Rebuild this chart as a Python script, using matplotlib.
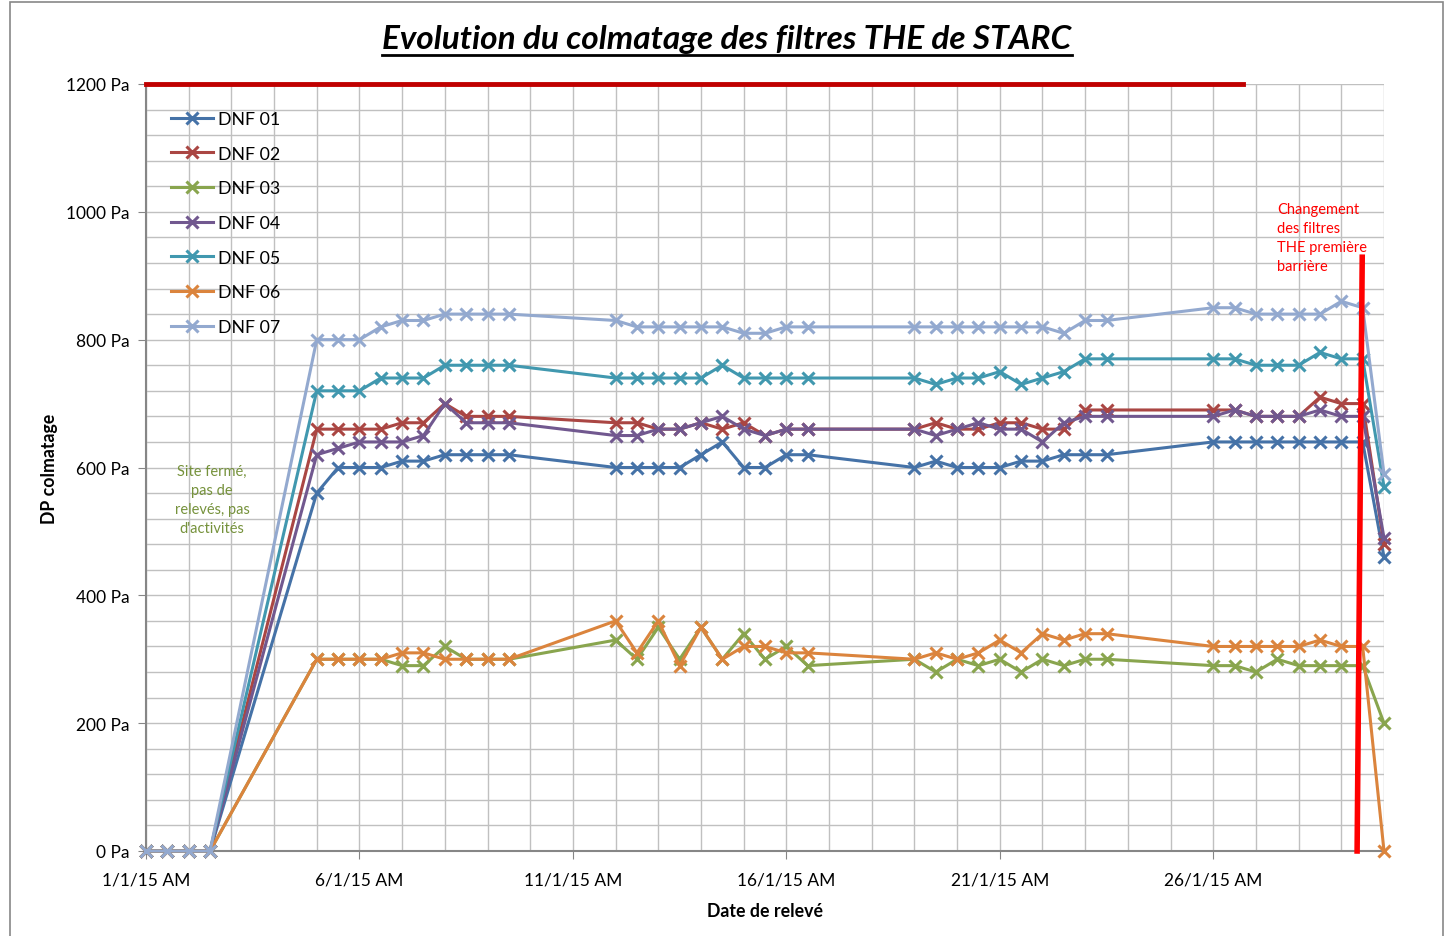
import matplotlib.pyplot as plt
from matplotlib.lines import Line2D
from matplotlib.patches import Rectangle
from matplotlib.ticker import MultipleLocator

plt.rcParams['font.family'] = ['Lato', 'DejaVu Sans']

# jours depuis le 1/1/15 AM (relevés matin / après-midi)
jours = [0, 0.5, 1, 1.5, 4, 4.5, 5, 5.5, 6, 6.5, 7, 7.5, 8, 8.5,
         11, 11.5, 12, 12.5, 13, 13.5, 14, 14.5, 15, 15.5,
         18, 18.5, 19, 19.5, 20, 20.5, 21, 21.5, 22, 22.5,
         25, 25.5, 26, 26.5, 27, 27.5, 28, 28.5, 29]

dnf01 = [0, 0, 0, 0, 560, 600, 600, 600, 610, 610, 620, 620, 620, 620,
         600, 600, 600, 600, 620, 640, 600, 600, 620, 620,
         600, 610, 600, 600, 600, 610, 610, 620, 620, 620,
         640, 640, 640, 640, 640, 640, 640, 640, 460]
dnf02 = [0, 0, 0, 0, 660, 660, 660, 660, 670, 670, 700, 680, 680, 680,
         670, 670, 660, 660, 670, 660, 670, 650, 660, 660,
         660, 670, 660, 660, 670, 670, 660, 660, 690, 690,
         690, 690, 680, 680, 680, 710, 700, 700, 480]
dnf03 = [0, 0, 0, 0, 300, 300, 300, 300, 290, 290, 320, 300, 300, 300,
         330, 300, 350, 300, 350, 300, 340, 300, 320, 290,
         300, 280, 300, 290, 300, 280, 300, 290, 300, 300,
         290, 290, 280, 300, 290, 290, 290, 290, 200]
dnf04 = [0, 0, 0, 0, 620, 630, 640, 640, 640, 650, 700, 670, 670, 670,
         650, 650, 660, 660, 670, 680, 660, 650, 660, 660,
         660, 650, 660, 670, 660, 660, 640, 670, 680, 680,
         680, 690, 680, 680, 680, 690, 680, 680, 490]
dnf05 = [0, 0, 0, 0, 720, 720, 720, 740, 740, 740, 760, 760, 760, 760,
         740, 740, 740, 740, 740, 760, 740, 740, 740, 740,
         740, 730, 740, 740, 750, 730, 740, 750, 770, 770,
         770, 770, 760, 760, 760, 780, 770, 770, 570]
dnf06 = [0, 0, 0, 0, 300, 300, 300, 300, 310, 310, 300, 300, 300, 300,
         360, 310, 360, 290, 350, 300, 320, 320, 310, 310,
         300, 310, 300, 310, 330, 310, 340, 330, 340, 340,
         320, 320, 320, 320, 320, 330, 320, 320, 0]
dnf07 = [0, 0, 0, 0, 800, 800, 800, 820, 830, 830, 840, 840, 840, 840,
         830, 820, 820, 820, 820, 820, 810, 810, 820, 820,
         820, 820, 820, 820, 820, 820, 820, 810, 830, 830,
         850, 850, 840, 840, 840, 840, 860, 850, 590]

series = ['DNF 01', 'DNF 02', 'DNF 03', 'DNF 04', 'DNF 05', 'DNF 06', 'DNF 07']
valeurs = [dnf01, dnf02, dnf03, dnf04, dnf05, dnf06, dnf07]
couleurs = ['#4572A7', '#AA4643', '#89A54E', '#71588F', '#4198AF', '#DB843D', '#93A9CF']

date_ticks = [0, 5, 10, 15, 20, 25]
date_labels = ['1/1/15 AM', '6/1/15 AM', '11/1/15 AM', '16/1/15 AM', '21/1/15 AM', '26/1/15 AM']

seuil = 1200          # seuil de colmatage
fin_seuil = 25.7      # fin du trait rouge du seuil
changement = [28.37, 28.49]   # trait du changement de filtres
changement_haut = 929

fig = plt.figure(figsize=(14.5, 9.37), dpi=100)
ax = fig.add_axes([146 / 1450, 1 - 852 / 937, (1384 - 146) / 1450, (852 - 85) / 937])

for nom, y, c in zip(series, valeurs, couleurs):
    ax.plot(jours, y, color=c, lw=2.2, marker='x', ms=8, mew=2.2, label=nom, clip_on=False, zorder=3)

# seuil 1200 Pa et changement des filtres
ax.plot([0, fin_seuil], [seuil, seuil], color='#C00000', lw=3.5, clip_on=False, zorder=4)
ax.plot(changement, [0, changement_haut], color='#FF0000', lw=4, clip_on=False, zorder=4)

ax.set_xlim(0, 29)
ax.set_ylim(0, 1200)
ax.set_xticks(date_ticks)
ax.set_xticklabels(date_labels)
ax.xaxis.set_minor_locator(MultipleLocator(1))
ax.yaxis.set_major_locator(MultipleLocator(200))
ax.yaxis.set_minor_locator(MultipleLocator(40))
ax.set_yticklabels([f'{int(v)} Pa' for v in ax.get_yticks()])
ax.tick_params(axis='both', which='major', labelsize=12.5, length=6, color='#868686', pad=6)
ax.tick_params(axis='x', which='major', pad=9)
ax.tick_params(axis='both', which='minor', length=0)
ax.grid(True, which='both', color='#C0C0C0', lw=1)
ax.set_axisbelow(True)
for s in ['top', 'right']:
    ax.spines[s].set_visible(False)
for s in ['left', 'bottom']:
    ax.spines[s].set_color('#868686')
    ax.spines[s].set_linewidth(1.5)

ax.set_ylabel('DP colmatage', fontsize=12.8, fontweight='bold', labelpad=6)
ax.set_xlabel('Date de relevé', fontsize=12.8, fontweight='bold', labelpad=10)

ax.legend(loc='upper left', bbox_to_anchor=(0.02, 0.965), frameon=False, fontsize=12.8,
          numpoints=1, handlelength=2.4, handletextpad=0.25, labelspacing=1.05,
          borderpad=0, borderaxespad=0)

ax.text(1.55, 606, "Site fermé,\npas de\nrelevés, pas\nd'activités", color='#76923C',
        fontsize=10.5, ha='center', va='top', linespacing=1.45)
ax.text(26.5, 1015, 'Changement\ndes filtres\nTHE première\nbarrière', color='#FF0000',
        fontsize=10.5, ha='left', va='top', linespacing=1.45)

titre = fig.text(727 / 1450, 1 - 40 / 937, 'Evolution du colmatage des filtres THE de STARC',
                 fontsize=24, fontweight='bold', fontstyle='italic', ha='center', va='center')
fig.canvas.draw()
bb = titre.get_window_extent(fig.canvas.get_renderer())
fig.add_artist(Line2D([bb.x0 / 1450, bb.x1 / 1450], [(bb.y0 - 1) / 937, (bb.y0 - 1) / 937],
                      color='black', lw=2, transform=fig.transFigure))

fig.add_artist(Rectangle((10 / 1450, -0.01), (1443 - 10) / 1450, 1.01 - 3 / 937,
                         transform=fig.transFigure, fill=False, edgecolor='#888888', lw=1.2))

fig.savefig('out.png', dpi=100)
